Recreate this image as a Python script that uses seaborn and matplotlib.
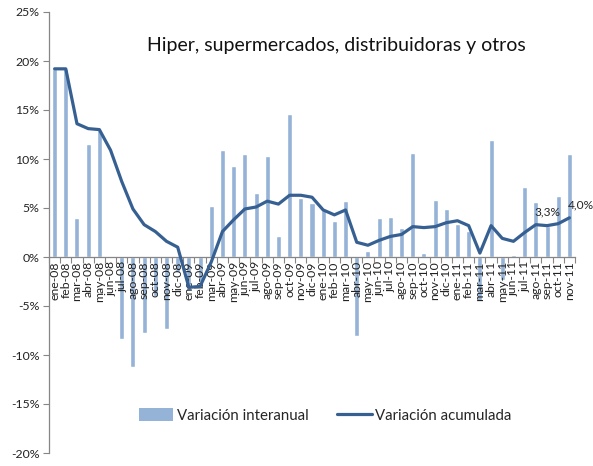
import numpy as np
import pandas as pd
import matplotlib
matplotlib.use("Agg")
import matplotlib.pyplot as plt
from matplotlib.patches import Patch
from matplotlib.lines import Line2D
from matplotlib.ticker import FixedLocator, FuncFormatter
import seaborn as sns

# Months (Jan 2008 - Nov 2011)
meses = [
    "ene-08", "feb-08", "mar-08", "abr-08", "may-08", "jun-08", "jul-08", "ago-08", "sep-08", "oct-08", "nov-08", "dic-08",
    "ene-09", "feb-09", "mar-09", "abr-09", "may-09", "jun-09", "jul-09", "ago-09", "sep-09", "oct-09", "nov-09", "dic-09",
    "ene-10", "feb-10", "mar-10", "abr-10", "may-10", "jun-10", "jul-10", "ago-10", "sep-10", "oct-10", "nov-10", "dic-10",
    "ene-11", "feb-11", "mar-11", "abr-11", "may-11", "jun-11", "jul-11", "ago-11", "sep-11", "oct-11", "nov-11",
]

# Year-on-year change (%)
interanual = [
    19.2, 19.2, 4.0, 11.5, 13.0, 0.1, -8.4, -11.2, -7.8, -4.0, -7.3, -1.5,
    -3.5, -2.5, 5.2, 10.9, 9.3, 10.5, 6.5, 10.3, 2.1, 14.6, 6.0, 5.5,
    4.8, 3.7, 5.7, -8.1, 0.6, 4.0, 4.1, 3.0, 10.6, 0.4, 5.8, 4.9,
    3.4, 2.7, -4.5, 11.9, -2.3, 0.2, 7.1, 5.6, 3.2, 6.2, 10.5,
]

# Cumulative change (%)
acumulada = [
    19.2, 19.2, 13.6, 13.1, 13.0, 10.9, 7.7, 4.9, 3.3, 2.6, 1.6, 1.0,
    -3.1, -3.0, -0.5, 2.6, 3.8, 4.9, 5.1, 5.7, 5.4, 6.3, 6.3, 6.1,
    4.8, 4.3, 4.8, 1.5, 1.2, 1.7, 2.1, 2.3, 3.1, 3.0, 3.1, 3.5,
    3.7, 3.2, 0.4, 3.2, 1.9, 1.6, 2.5, 3.3, 3.2, 3.4, 4.0,
]

# Points carrying a value label
etiquetas = {"ago-11": "3,3%", "nov-11": "4,0%"}

titulo = "Hiper, supermercados, distribuidoras y otros"
y_ticks = [-20, -15, -10, -5, 0, 5, 10, 15, 20, 25]

df = pd.DataFrame({
    "mes": meses,
    "pos": np.arange(len(meses)),
    "interanual": interanual,
    "acumulada": acumulada,
})

sns.set_style("white")
plt.rcParams["font.family"] = ["Lato", "DejaVu Sans"]

color_bar = "#95B3D7"
color_line = "#376092"
color_axis = "#868686"

fig = plt.figure(figsize=(5.93, 4.66), dpi=100)
ax = fig.add_axes([49 / 593, 1 - 453 / 466, 526 / 593, 441 / 466])

sns.barplot(data=df, x="mes", y="interanual", order=meses, color=color_bar,
            saturation=1, width=0.45, ax=ax, zorder=2)
sns.lineplot(data=df, x="pos", y="acumulada", color=color_line, linewidth=2.3,
             ax=ax, zorder=3)

for mes, txt in etiquetas.items():
    i = meses.index(mes)
    ax.annotate(txt, (i, acumulada[i]), xytext=(-1, 9), textcoords="offset points",
                ha="left", va="center", fontsize=8.6, color="#262626", zorder=4)

ax.set_xlim(-0.5, len(meses) - 0.5)
ax.set_ylim(-20, 25)

# month labels sit on top of the bars
ax.set_axisbelow(False)

# y axis
ax.yaxis.set_major_locator(FixedLocator(y_ticks))
ax.yaxis.set_major_formatter(FuncFormatter(lambda v, p: f"{v:.0f}%"))
ax.tick_params(axis="y", which="major", left=True, length=4, width=0.8,
               color=color_axis, labelsize=8.8, labelcolor="#222222", pad=3)

# x axis on the zero line, tick marks between categories
ax.spines["bottom"].set_position(("data", 0))
ax.set_xticks(np.arange(len(meses)))
ax.set_xticklabels(meses, rotation=90, fontsize=8.8, color="#222222")
ax.set_xticks(np.arange(len(meses) + 1) - 0.5, minor=True)
ax.tick_params(axis="x", which="major", bottom=False, length=0, pad=3)
ax.tick_params(axis="x", which="minor", bottom=True, length=4, width=0.8, color=color_axis)

for s in ["top", "right"]:
    ax.spines[s].set_visible(False)
for s in ["left", "bottom"]:
    ax.spines[s].set_color(color_axis)
    ax.spines[s].set_linewidth(0.9)

ax.set_xlabel("")
ax.set_ylabel("")

ax.text(0.546, 0.925, titulo, transform=ax.transAxes, ha="center", va="center",
        fontsize=14.0, color="#111111")

handles = [
    Patch(facecolor=color_bar, edgecolor="none"),
    Line2D([0], [0], color=color_line, linewidth=2.3),
]
ax.legend(handles, ["Variación interanual", "Variación acumulada"], loc="center",
          bbox_to_anchor=(0.525, 0.085), ncol=2, frameon=False, fontsize=10.8,
          handlelength=2.3, handleheight=0.9, columnspacing=1.9, handletextpad=0.25)

fig.savefig("out.png", dpi=100)
